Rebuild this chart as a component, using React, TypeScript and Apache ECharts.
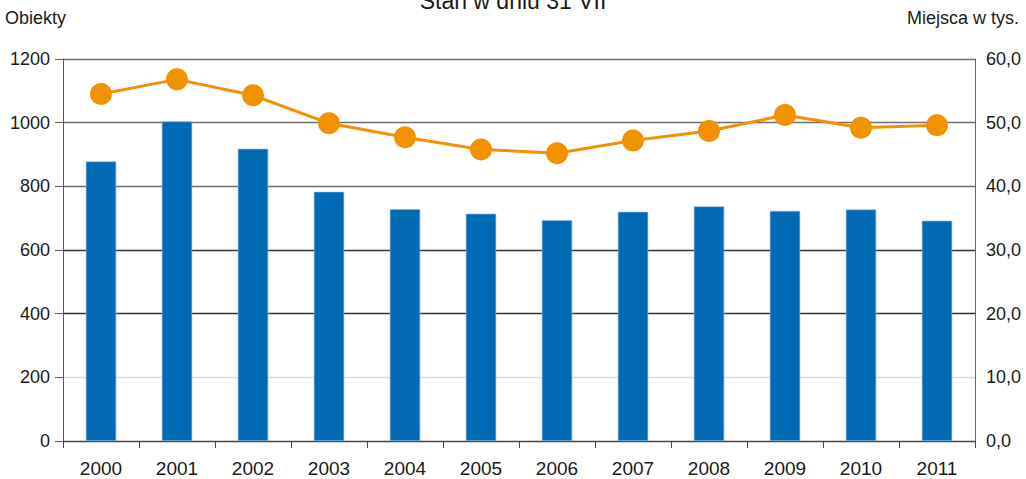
import React, { useEffect, useRef } from "react";
import * as echarts from "echarts";

const years = ["2000", "2001", "2002", "2003", "2004", "2005", "2006", "2007", "2008", "2009", "2010", "2011"];
const objects = [878, 1004, 918, 783, 728, 714, 694, 720, 737, 723, 727, 692];
const places = [54.5, 56.8, 54.3, 49.9, 47.7, 45.8, 45.2, 47.2, 48.7, 51.2, 49.2, 49.6];

const titleText = "Stan w dniu 31 VII";
const leftAxisName = "Obiekty";
const rightAxisName = "Miejsca w tys.";

export default function App() {
  const ref = useRef<HTMLDivElement>(null);
  useEffect(() => {
    if (!ref.current) return;
    const chart = echarts.init(ref.current, undefined, { renderer: "svg" });
    const font = "'Liberation Sans', Arial, sans-serif";
    chart.setOption({
      animation: false,
      backgroundColor: "#ffffff",
      textStyle: { fontFamily: font },
      grid: { left: 63, right: 51, top: 59, bottom: 38, containLabel: false },
      graphic: [
        {
          type: "text",
          left: "center",
          top: -11,
          style: { text: titleText, fontSize: 23, fill: "#1a1a1a", fontFamily: font },
        },
        {
          type: "text",
          left: 5,
          top: 9,
          style: { text: leftAxisName, fontSize: 18, fill: "#1a1a1a", fontFamily: font },
        },
        {
          type: "text",
          right: 7,
          top: 9,
          style: { text: rightAxisName, fontSize: 18, fill: "#1a1a1a", fontFamily: font },
        },
      ],
      xAxis: {
        type: "category",
        data: years,
        boundaryGap: true,
        axisLine: { lineStyle: { color: "#444", width: 1 } },
        axisTick: { show: true, length: 7, alignWithLabel: false, lineStyle: { color: "#444" } },
        axisLabel: { color: "#1a1a1a", fontSize: 19, margin: 18, fontFamily: font },
      },
      yAxis: [
        {
          type: "value",
          min: 0,
          max: 1200,
          interval: 200,
          axisLine: { show: true, lineStyle: { color: "#555", width: 1 } },
          axisTick: { show: true, length: 8, lineStyle: { color: "#555" } },
          axisLabel: {
            color: "#1a1a1a",
            fontSize: 18,
            margin: 13,
            fontFamily: font,
            formatter: (v: number) => String(v),
          },
          splitLine: {
            show: true,
            lineStyle: {
              color: ["#444", "#d9d9d9", "#333", "#333", "#6e6e6e", "#6e6e6e", "#6e6e6e"],
              width: 1.3,
            },
          },
        },
        {
          type: "value",
          min: 0,
          max: 60,
          interval: 10,
          position: "right",
          axisLine: { show: true, lineStyle: { color: "#666", width: 1 } },
          axisTick: { show: false },
          splitLine: { show: false },
          axisLabel: {
            color: "#1a1a1a",
            fontSize: 18,
            margin: 11,
            fontFamily: font,
            formatter: (v: number) => v.toFixed(1).replace(".", ","),
          },
        },
      ],
      series: [
        {
          type: "bar",
          data: objects,
          yAxisIndex: 0,
          barWidth: "40%",
          itemStyle: { color: "#006AB4", borderColor: "#8fc0e6", borderWidth: 0.6 },
        },
        {
          type: "line",
          data: places,
          yAxisIndex: 1,
          symbol: "circle",
          symbolSize: 22,
          lineStyle: { color: "#F39200", width: 3 },
          itemStyle: { color: "#F39200" },
        },
      ],
    });
    return () => chart.dispose();
  }, []);
  return (
    <div
      ref={ref}
      style={{ position: "absolute", left: 0, top: 0, width: 1026, height: 479 }}
    />
  );
}
